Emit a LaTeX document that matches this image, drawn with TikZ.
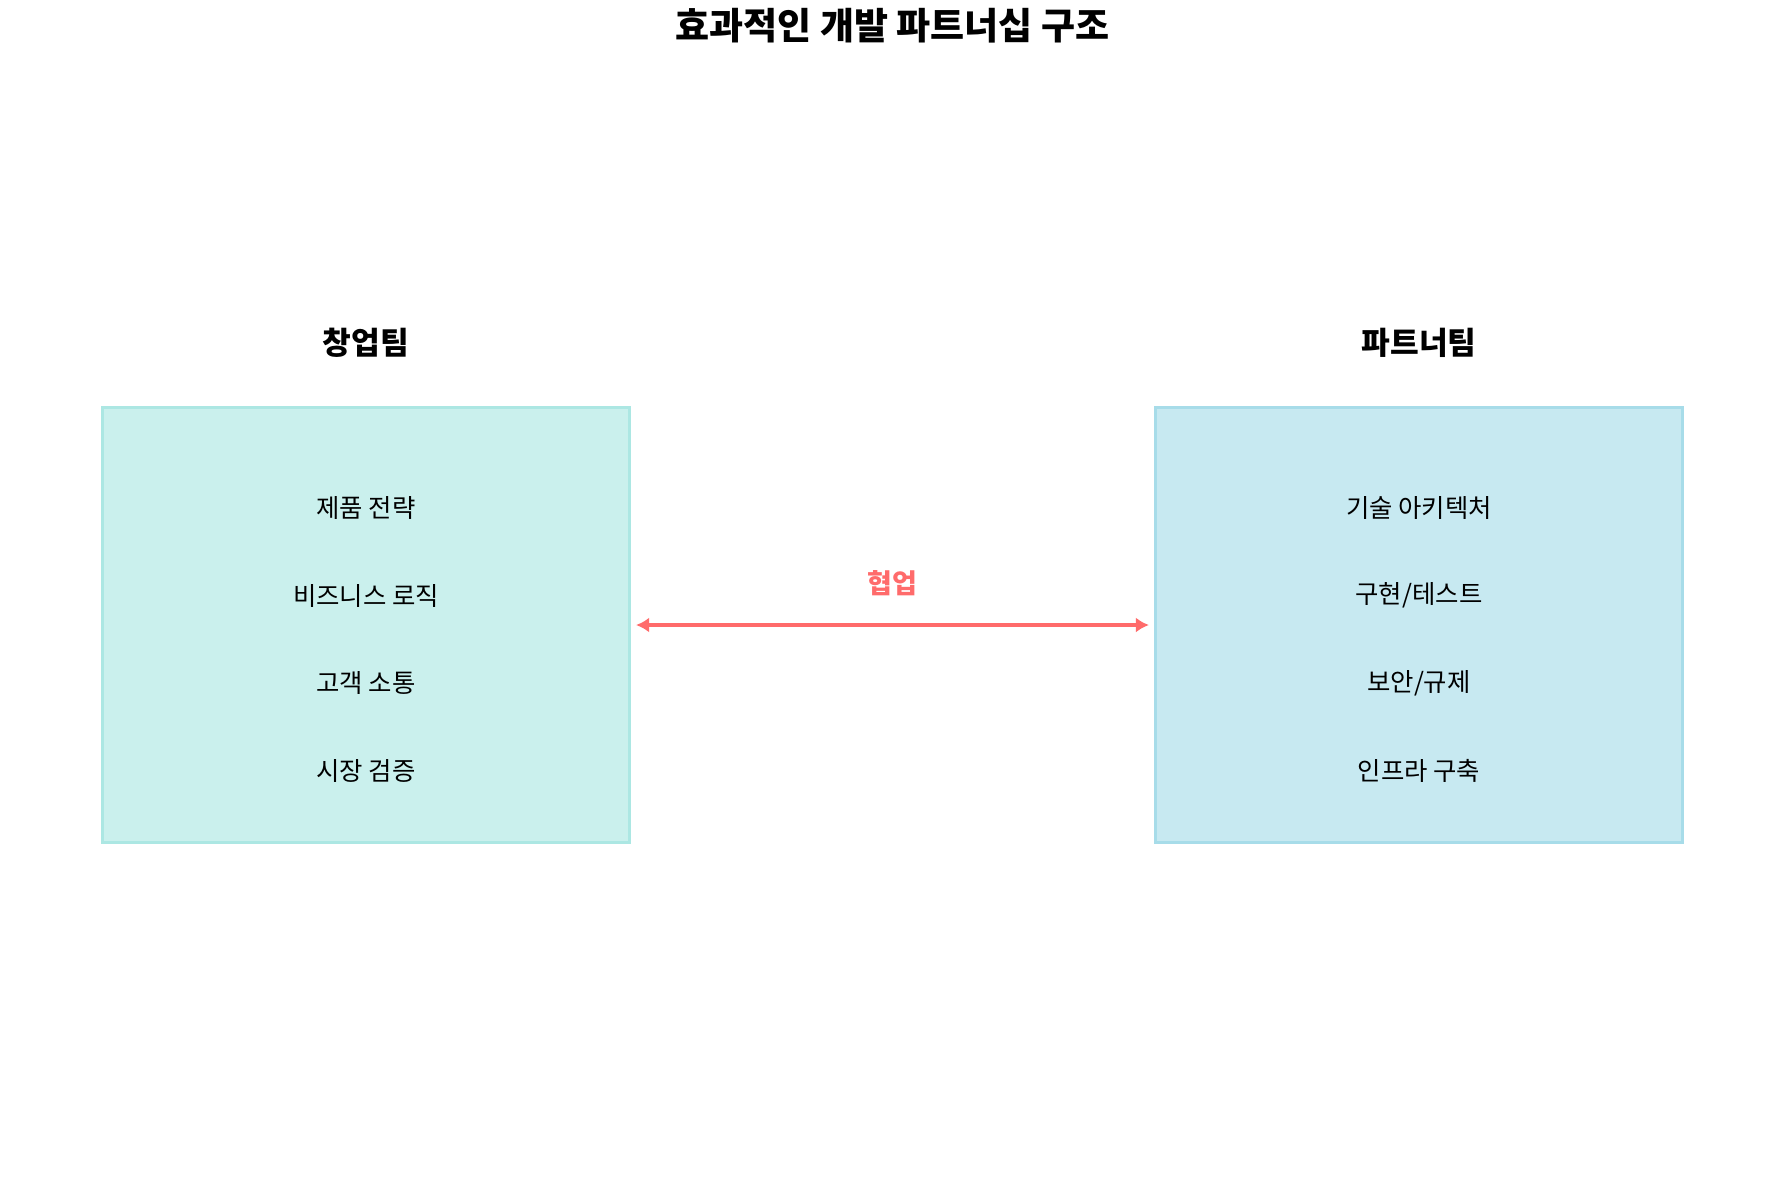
\documentclass[tikz,border=0pt]{standalone}
\usepackage{fontspec}
\setmainfont{Noto Sans CJK KR}
\usetikzlibrary{arrows.meta}
\definecolor{leftfill}{RGB}{202,240,237}
\definecolor{leftedge}{RGB}{172,231,227}
\definecolor{rightfill}{RGB}{199,233,241}
\definecolor{rightedge}{RGB}{167,220,233}
\definecolor{collab}{RGB}{255,107,107}
\begin{document}
\begin{tikzpicture}[x=0.5pt,y=-0.5pt,
  teambox/.style={rectangle, minimum width=263.5pt, minimum height=217.8pt, line width=1.6pt, inner sep=0pt},
  lbox/.style={teambox, fill=leftfill, draw=leftedge},
  rbox/.style={teambox, fill=rightfill, draw=rightedge},
  titletext/.style={font=\fontsize{18.5pt}{22pt}\selectfont\bfseries, inner sep=0pt, anchor=center},
  teamlabel/.style={font=\fontsize{15.6pt}{18pt}\selectfont\bfseries, inner sep=0pt, anchor=center},
  itemtext/.style={font=\fontsize{12.7pt}{15pt}\selectfont, inner sep=0pt, anchor=center},
  collabarrow/.style={draw=collab, line width=2.3pt, {Latex[length=6.5pt,width=7.5pt]}-{Latex[length=6.5pt,width=7.5pt]}},
  collabtext/.style={font=\fontsize{13.5pt}{16pt}\selectfont\bfseries, text=collab, inner sep=0pt}
]
\useasboundingbox (0,0) rectangle (1785,1184);
\fill[white] (0,0) rectangle (1785,1184);

\node[titletext] (title) at (892.5,26) {효과적인 개발 파트너십 구조};

\node[teamlabel] (lbl1) at (366,343) {창업팀};
\node[teamlabel] (lbl2) at (1419,343) {파트너팀};

\node[lbox] (left) at (366,625) {};
\node[rbox] (right) at (1419,625) {};

\node[itemtext] (l1) at (366,508) {제품 전략};
\node[itemtext] (l2) at (366,595.5) {비즈니스 로직};
\node[itemtext] (l3) at (366,683) {고객 소통};
\node[itemtext] (l4) at (366,770.5) {시장 검증};

\node[itemtext] (r1) at (1419,508) {기술 아키텍처};
\node[itemtext] (r2) at (1419,595.5) {구현/테스트};
\node[itemtext] (r3) at (1419,683) {보안/규제};
\node[itemtext] (r4) at (1419,770.5) {인프라 구축};

\draw[collabarrow] ([xshift=2.5pt]left.east) -- ([xshift=-2.5pt]right.west)
  node[collabtext, midway, yshift=21pt] (collablabel) {협업};
\end{tikzpicture}
\end{document}
